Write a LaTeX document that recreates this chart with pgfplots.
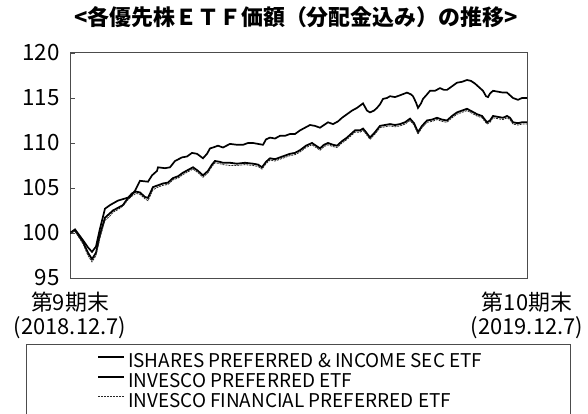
\documentclass[border=0pt]{standalone}
\usepackage{fontspec}
\setmainfont{Noto Sans CJK JP}
\usepackage{pgfplots}
\usepackage{pgfplotstable}
\pgfplotsset{compat=1.18}
\pgfplotstableread{
x y
0 100.0
5 100.4
13 99.2
18 98.4
22 97.9
26 98.5
30 100.5
35 102.7
40 103.1
48 103.6
54 103.8
60 104.0
65 104.7
70 105.8
78 105.7
82 106.4
87 106.9
88 107.3
95 107.2
100 107.3
105 108.0
112 108.4
117 108.5
122 108.9
127 108.8
133 108.3
137 108.8
140 109.4
143 109.5
148 109.7
153 109.5
160 109.9
167 109.8
173 109.8
178 110.0
183 110.0
188 109.9
193 109.8
196 110.4
200 110.6
205 110.5
210 110.8
215 110.8
220 111.0
225 111.0
230 111.4
235 111.7
240 112.0
245 111.9
250 111.7
254 112.0
258 112.3
263 112.1
268 112.4
272 112.8
277 113.2
282 113.6
287 113.9
293 114.4
297 113.6
300 113.4
304 113.6
307 113.9
310 114.3
313 114.9
317 115.0
320 115.2
325 115.1
330 115.3
337 115.6
341 115.4
343 115.2
346 114.5
348 113.9
351 114.4
353 114.9
357 115.4
360 115.8
365 115.8
370 116.1
374 115.9
377 115.9
382 116.3
387 116.7
392 116.8
397 117.0
401 116.9
405 116.6
409 116.2
413 115.8
416 115.2
418 115.1
420 115.5
423 115.8
428 115.7
433 115.6
437 115.6
440 115.3
443 115.0
448 114.8
452 115.0
457 115.0
}\upper
\pgfplotstableread{
x y
0 100.0
5 100.3
13 99.0
18 97.8
22 97.1
26 97.8
30 99.8
35 101.7
40 102.2
43 102.5
48 102.8
53 103.1
58 103.9
62 104.4
66 104.6
70 104.5
75 104.0
78 103.9
83 105.1
88 105.3
93 105.5
98 105.6
103 106.1
108 106.3
113 106.7
118 107.0
123 107.3
128 106.9
133 106.4
138 106.9
142 107.6
145 108.0
150 107.9
153 107.8
160 107.8
167 107.7
175 107.8
183 107.7
188 107.6
192 107.3
196 107.9
200 108.3
205 108.2
210 108.4
215 108.6
220 108.8
225 108.9
230 109.2
236 109.7
242 110.0
246 109.7
250 109.4
254 109.8
258 110.0
263 109.8
267 109.7
272 110.2
277 110.6
281 111.0
285 111.4
290 111.4
293 111.6
296 111.2
300 110.6
305 111.2
310 111.9
315 112.0
320 112.1
325 112.0
330 112.1
335 112.3
340 112.7
344 112.2
348 111.2
352 111.9
357 112.5
362 112.6
367 112.8
372 112.6
377 112.5
382 113.0
387 113.4
392 113.6
397 113.8
402 113.5
407 113.2
412 113.0
417 112.3
420 112.5
423 113.0
428 112.9
433 112.8
437 113.0
440 112.8
443 112.3
448 112.2
452 112.3
457 112.3
}\lowerA
\pgfplotstableread{
x y
0 100.0
5 100.2
13 98.8
18 97.5
22 96.8
26 97.5
30 99.5
35 101.4
40 101.9
43 102.3
48 102.6
53 103.0
58 103.7
62 104.1
66 104.4
70 104.3
75 103.8
78 103.6
83 104.8
88 105.1
93 105.3
98 105.4
103 105.9
108 106.1
113 106.5
118 106.8
123 107.1
128 106.7
133 106.2
138 106.7
142 107.4
145 107.8
150 107.7
153 107.6
160 107.5
167 107.5
175 107.6
183 107.5
188 107.4
192 107.1
196 107.7
200 108.1
205 108.0
210 108.2
215 108.4
220 108.6
225 108.7
230 109.0
236 109.5
242 109.8
246 109.5
250 109.2
254 109.6
258 109.8
263 109.6
267 109.5
272 110.0
277 110.4
281 110.8
285 111.2
290 111.2
293 111.4
296 111.0
300 110.4
305 111.0
310 111.7
315 111.8
320 111.9
325 111.8
330 111.9
335 112.1
340 112.5
344 112.0
348 111.0
352 111.7
357 112.3
362 112.4
367 112.6
372 112.4
377 112.3
382 112.8
387 113.2
392 113.4
397 113.6
402 113.3
407 113.0
412 112.8
417 112.1
420 112.3
423 112.8
428 112.7
433 112.6
437 112.8
440 112.6
443 112.1
448 112.0
452 112.1
457 112.1
}\lowerB
\begin{document}
\begin{tikzpicture}
\useasboundingbox (0bp,0bp) rectangle (588bp,414bp);
\draw[draw=black!70, line width=1bp] (26bp,-10bp) -- (26bp,69bp) -- (570bp,69bp) -- (570bp,-10bp);
\begin{axis}[
  at={(70bp,136bp)}, anchor=south west,
  scale only axis, width=457bp, height=225bp,
  xmin=0, xmax=457, ymin=95, ymax=120,
  axis line style={draw=black!70, line width=1bp},
  ytick={95,100,105,110,115,120},
  ytick pos=left, tick align=inside,
  major tick length=5bp,
  tick style={draw=black!70, line width=0.8bp},
  xtick={0,457},
  xtick style={draw=none},
  xticklabels={{第9期末\\(2018.12.7)},{第10期末\\(2019.12.7)}},
  xticklabel style={align=center, font=\fontsize{22}{24}\selectfont, inner sep=0pt, yshift=-14bp},
  yticklabel style={font=\fontsize{22.5}{22}\selectfont, inner sep=0pt, xshift=-10bp},
  /pgf/number format/assume math mode=true,
  title={<各優先株ＥＴＦ価額（分配金込み）の推移>},
  title style={at={(0.4945,1.1333)}, anchor=center, font=\bfseries\fontsize{22}{22}\selectfont, inner sep=0pt},
  legend style={at={(0.0591,-0.3333)}, anchor=north west, draw=none, fill=none,
    inner sep=0pt, row sep=0pt, column sep=3bp,
    font=\fontsize{19}{20}\selectfont,
    nodes={inner sep=0pt, text height=14bp, text depth=6bp}},
  legend cell align=left,
  legend image code/.code={\draw[#1] (0bp,6.5bp) -- (26bp,6.5bp);},
]
\addplot[black, line width=1.8bp] table[x=x,y=y] {\lowerA};
\addlegendentry{ISHARES PREFERRED \& INCOME SEC ETF}
\addplot[black, line width=1.7bp] table[x=x,y=y] {\upper};
\addlegendentry{INVESCO PREFERRED ETF}
\addplot[black!85, line width=0.8bp, dash pattern=on 2bp off 1bp] table[x=x,y=y] {\lowerB};
\addlegendentry{INVESCO FINANCIAL PREFERRED ETF}
\end{axis}
\end{tikzpicture}
\end{document}
